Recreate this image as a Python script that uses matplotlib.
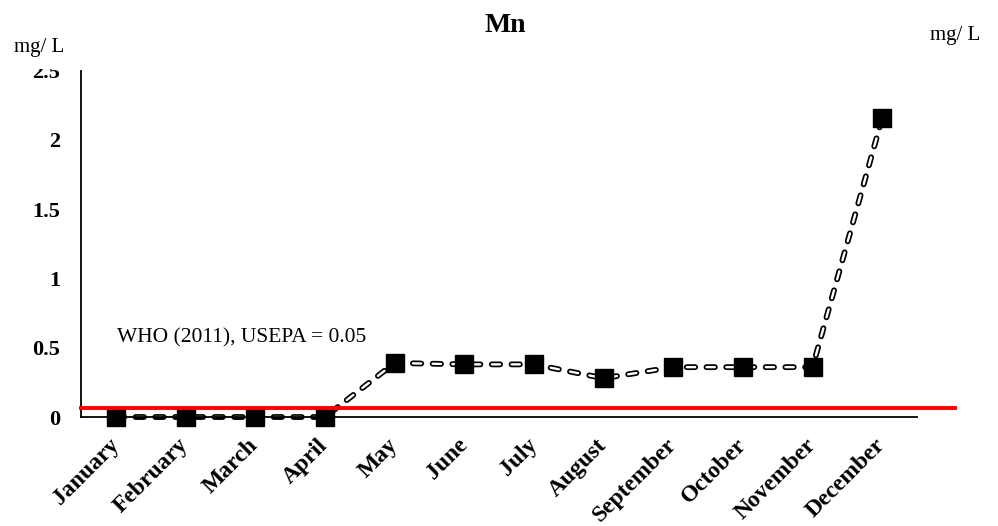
import matplotlib
matplotlib.use('Agg')
import matplotlib.pyplot as plt
from matplotlib.transforms import Bbox

# Data ---------------------------------------------------------------
months = ['January', 'February', 'March', 'April', 'May', 'June', 'July',
          'August', 'September', 'October', 'November', 'December']
mn_values = [0.0, 0.0, 0.0, 0.0, 0.39, 0.38, 0.38, 0.28, 0.36, 0.36, 0.36, 2.16]
limit_value = 0.065  # drawn position of the WHO / USEPA guide line
limit_label = 'WHO (2011), USEPA = 0.05'
yticks = [0, 0.5, 1, 1.5, 2, 2.5]
ytick_labels = ['0', '0.5', '1', '1.5', '2', '2.5']

plt.rcParams['font.family'] = ['Liberation Serif', 'DejaVu Serif']
plt.rcParams['lines.scale_dashes'] = False

fig = plt.figure(figsize=(9.98, 5.26), dpi=100)
ax = fig.add_axes([0.0812, 0.2072, 0.8377, 0.6584])

x = list(range(len(months)))

# dashed line drawn as a black outline with a white core
dash = (0, (6.0, 8.2))
ax.plot(x, mn_values, color='black', lw=4.2, linestyle=dash,
        dash_capstyle='round', zorder=2, clip_on=False)
ax.plot(x, mn_values, color='white', lw=1.7, linestyle=dash,
        dash_capstyle='round', zorder=2.1, clip_on=True)
ax.plot(x, mn_values, linestyle='none', marker='s', markersize=13,
        color='black', zorder=3, clip_on=False)

# guide line, runs a bit past the axes on the right
ax.plot([0, 1.045], [limit_value, limit_value], color='#ff0000', lw=2.8,
        transform=ax.get_yaxis_transform(), clip_on=False, zorder=4)
ax.text(0.02, 0.57, limit_label, fontsize=15.5, ha='left', va='center')

ax.set_xlim(-0.5, 11.5)
ax.set_ylim(0, 2.5)
ax.set_yticks(yticks)
ax.set_yticklabels(ytick_labels, fontsize=16, fontweight='bold')
ax.set_xticks(x)
ax.set_xticklabels(months, fontsize=17, fontweight='bold', rotation=45,
                   ha='right', va='center', rotation_mode='anchor')
ax.tick_params(axis='y', length=0, pad=15)
ax.tick_params(axis='x', length=0, pad=18)

for side in ['top', 'right']:
    ax.spines[side].set_visible(False)
for side in ['left', 'bottom']:
    ax.spines[side].set_linewidth(1.3)
    ax.spines[side].set_zorder(2.5)

# top tick label is cut off at the axis top in the original
fig.canvas.draw()
top_clip = Bbox([[0, 0], [998, 526 - 69]])
for lab in ax.get_yticklabels():
    lab.set_clip_box(top_clip)
    lab.set_clip_on(True)

fig.text(0.506, 0.952, 'Mn', fontsize=20, fontweight='bold', ha='center', va='center')
fig.text(0.014, 0.909, 'mg/ L', fontsize=15, ha='left', va='center')
fig.text(0.932, 0.933, 'mg/ L', fontsize=15, ha='left', va='center')

fig.savefig('out.png', dpi=100)
